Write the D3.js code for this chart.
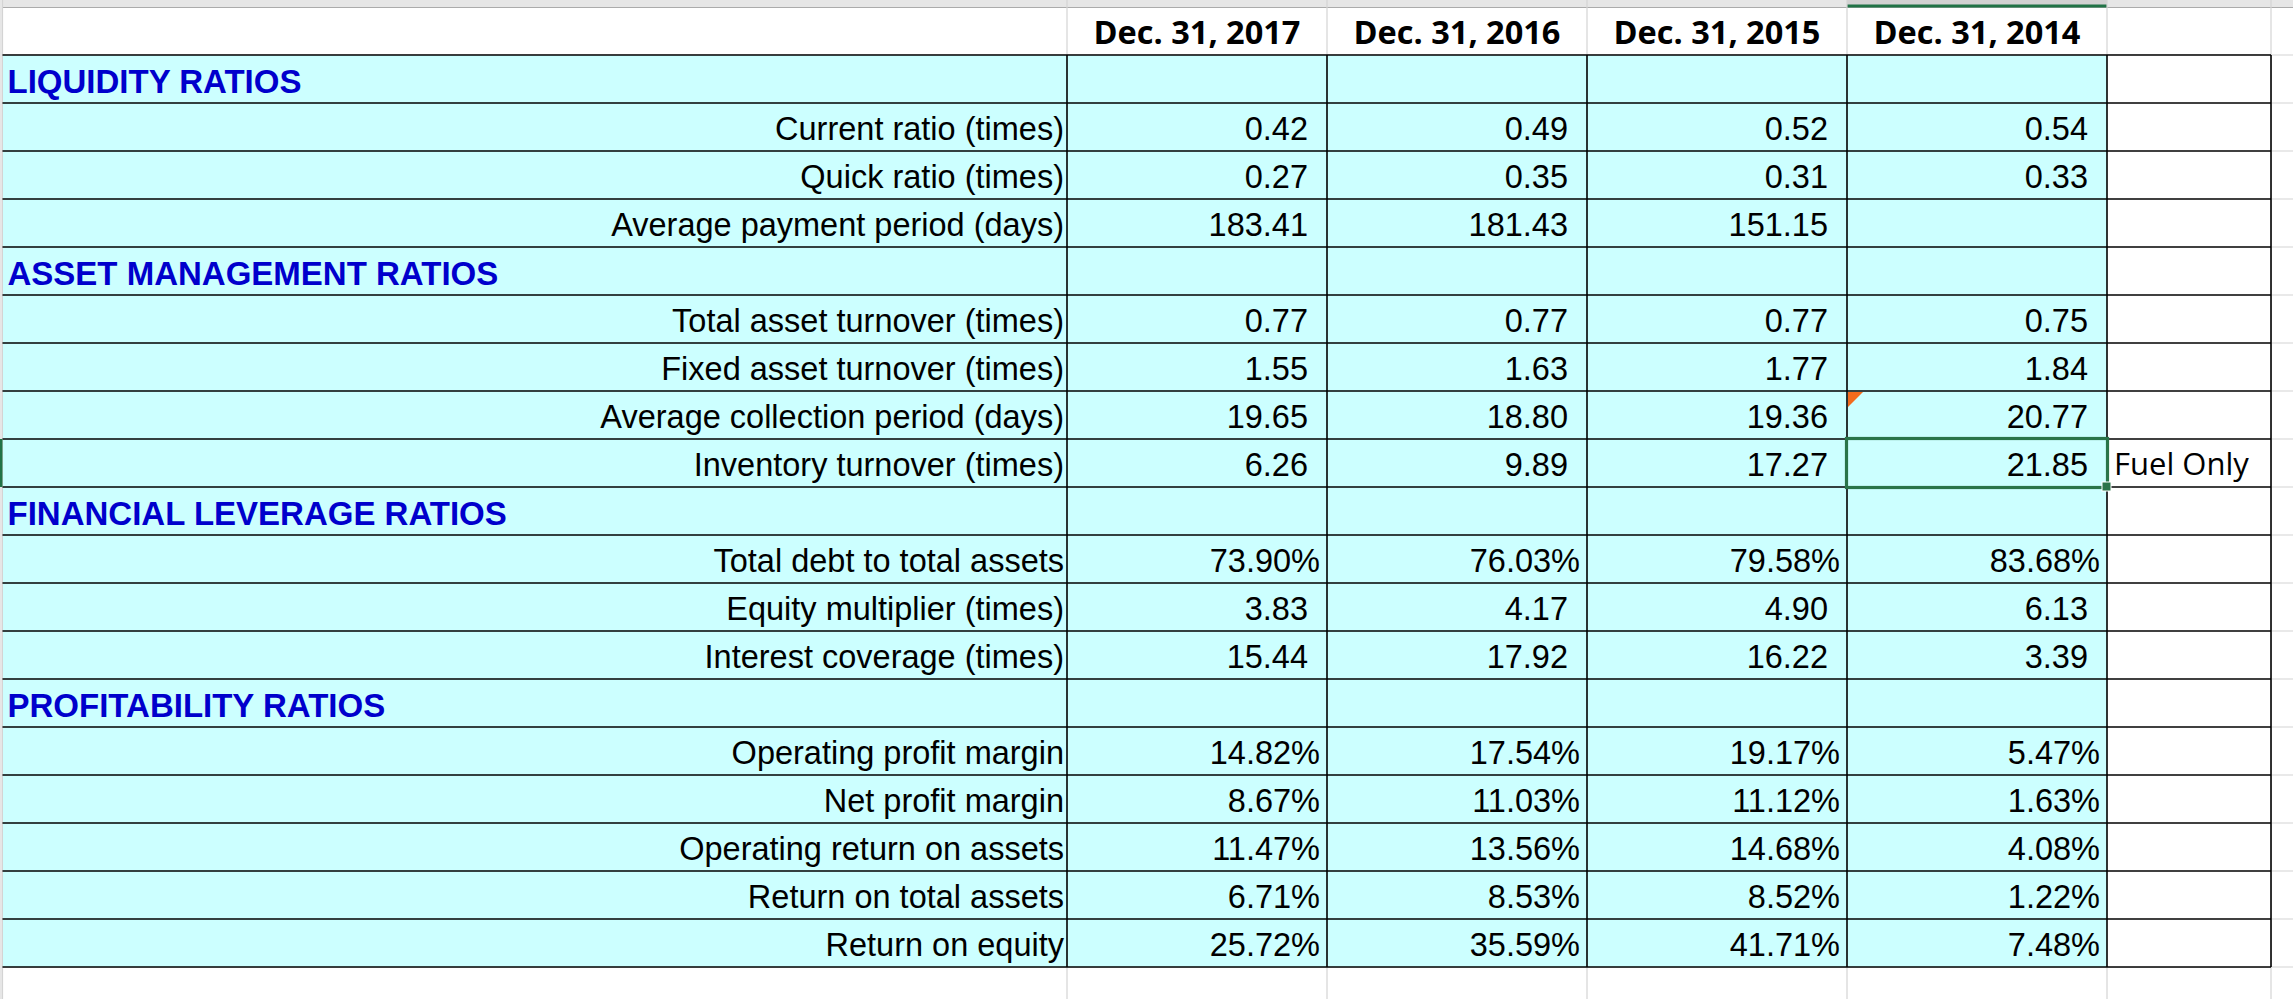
<!DOCTYPE html>
<html><head><meta charset="utf-8">
<script src="https://cdn.jsdelivr.net/npm/d3@7"></script>
<style>body{margin:0;background:#fff;overflow:hidden}svg{display:block}</style>
</head><body><svg id="c" width="2293" height="999"></svg>
<script>
// ---------- data ----------
const years = ["Dec. 31, 2017", "Dec. 31, 2016", "Dec. 31, 2015", "Dec. 31, 2014"];
const sections = ["LIQUIDITY RATIOS", "ASSET MANAGEMENT RATIOS", "FINANCIAL LEVERAGE RATIOS", "PROFITABILITY RATIOS"];
const ratioLabels = [
  "Current ratio (times)", "Quick ratio (times)", "Average payment period (days)",
  "Total asset turnover (times)", "Fixed asset turnover (times)", "Average collection period (days)", "Inventory turnover (times)",
  "Total debt to total assets", "Equity multiplier (times)", "Interest coverage (times)",
  "Operating profit margin", "Net profit margin", "Operating return on assets", "Return on total assets", "Return on equity"
];
const ratioSection = [0,0,0, 1,1,1,1, 2,2,2, 3,3,3,3,3];
const ratioIsPercent = [false,false,false, false,false,false,false, true,false,false, true,true,true,true,true];
const values2017 = [0.42, 0.27, 183.41, 0.77, 1.55, 19.65, 6.26, 73.90, 3.83, 15.44, 14.82, 8.67, 11.47, 6.71, 25.72];
const values2016 = [0.49, 0.35, 181.43, 0.77, 1.63, 18.80, 9.89, 76.03, 4.17, 17.92, 17.54, 11.03, 13.56, 8.53, 35.59];
const values2015 = [0.52, 0.31, 151.15, 0.77, 1.77, 19.36, 17.27, 79.58, 4.90, 16.22, 19.17, 11.12, 14.68, 8.52, 41.71];
const values2014 = [0.54, 0.33, null, 0.75, 1.84, 20.77, 21.85, 83.68, 6.13, 3.39, 5.47, 1.63, 4.08, 1.22, 7.48];
const ratioNotes = ["","","","","","","Fuel Only","","","","","","","",""];
const selectedCell = {label: "Inventory turnover (times)", year: "Dec. 31, 2014"};
const commentCell = {label: "Average collection period (days)", year: "Dec. 31, 2014"};

const seriesByYear = [values2017, values2016, values2015, values2014];

// ---------- build rows ----------
const rows = [];
sections.forEach((s, si) => {
  rows.push({type: "section", label: s});
  ratioLabels.forEach((l, i) => {
    if (ratioSection[i] === si) rows.push({type: "item", label: l, idx: i});
  });
});

// ---------- layout ----------
const W = 2293, H = 999;
const stripH = 7, headerTop = 7, tableTop = 55, rowH = 48;
const tableBottom = tableTop + rows.length * rowH;
const labelLeft = 2.5, labelRight = 1067, yearsRight = 2107, noteRight = 2271;

const y = d3.scaleBand().domain(d3.range(rows.length)).range([tableTop, tableBottom]).padding(0);
const x = d3.scaleBand().domain(years).range([labelRight, yearsRight]).padding(0);

const svg = d3.select("#c");
svg.append("rect").attr("width", W).attr("height", H).attr("fill", "#fff");

const grid = "#d4d4d4";
// column header strip
svg.append("rect").attr("x", 0).attr("y", 0).attr("width", W).attr("height", stripH).attr("fill", "#e6e6e6");
svg.append("rect").attr("x", x("Dec. 31, 2014")).attr("y", 0).attr("width", x.bandwidth()).attr("height", stripH).attr("fill", "#d2d2d2");
svg.append("line").attr("x1", 0).attr("x2", W).attr("y1", stripH + 0.5).attr("y2", stripH + 0.5).attr("stroke", "#ababab");
svg.append("rect").attr("x", x("Dec. 31, 2014")).attr("y", stripH - 2.5).attr("width", x.bandwidth()).attr("height", 3).attr("fill", "#217346");

// gridlines (light)
const colEdges = [labelLeft, ...years.map(d => x(d)), yearsRight, noteRight];
const rowEdges = [headerTop, ...d3.range(rows.length + 1).map(i => tableTop + i * rowH)];
svg.append("g").selectAll("line").data(colEdges).join("line")
  .attr("x1", d => d).attr("x2", d => d).attr("y1", 0).attr("y2", H)
  .attr("stroke", grid).attr("stroke-width", 1.2);
svg.append("g").selectAll("line").data(rowEdges.slice(1)).join("line")
  .attr("x1", labelLeft).attr("x2", W).attr("y1", d => d).attr("y2", d => d)
  .attr("stroke", grid).attr("stroke-width", 1.2);

// cyan fill
svg.append("rect").attr("x", labelLeft + 0.5).attr("y", tableTop).attr("width", yearsRight - labelLeft - 0.5)
  .attr("height", tableBottom - tableTop).attr("fill", "#ccffff");
svg.append("rect").attr("x", yearsRight).attr("y", tableTop).attr("width", noteRight - yearsRight)
  .attr("height", tableBottom - tableTop).attr("fill", "#ffffff");

// black borders
const bl = svg.append("g").attr("stroke", "#000").attr("stroke-width", 1.6);
bl.selectAll(".h").data(d3.range(rows.length + 1)).join("line")
  .attr("x1", labelLeft).attr("x2", noteRight)
  .attr("y1", i => tableTop + i * rowH).attr("y2", i => tableTop + i * rowH);
bl.selectAll(".v").data([labelRight, ...years.slice(1).map(d => x(d)), yearsRight, noteRight]).join("line")
  .attr("x1", d => d).attr("x2", d => d).attr("y1", tableTop).attr("y2", tableBottom);

// left row-header strip
svg.append("rect").attr("x", 0).attr("y", 0).attr("width", 2).attr("height", H).attr("fill", "#e6e6e6");

// header texts
svg.append("g").selectAll("text").data(years).join("text")
  .attr("x", d => x(d) + x.bandwidth() / 2).attr("y", tableTop - 11)
  .attr("text-anchor", "middle")
  .attr("font-family", "'Open Sans', sans-serif").attr("font-weight", 700).attr("font-size", 32.5)
  .attr("fill", "#000").text(d => d);

const arial = "'Liberation Sans', Arial, sans-serif";
// section labels
svg.append("g").selectAll("text").data(rows.map((r, i) => ({...r, i})).filter(r => r.type === "section")).join("text")
  .attr("x", labelLeft + 5).attr("y", d => y(d.i) + rowH - 10)
  .attr("font-family", arial).attr("font-weight", 700).attr("font-size", 33)
  .attr("fill", "#0000cc").text(d => d.label);

const items = rows.map((r, i) => ({...r, i})).filter(r => r.type === "item");
// item labels
svg.append("g").selectAll("text").data(items).join("text")
  .attr("x", labelRight - 3).attr("y", d => y(d.i) + rowH - 11)
  .attr("text-anchor", "end")
  .attr("font-family", arial).attr("font-size", 32.5).attr("fill", "#000").text(d => d.label);

// values
const f2 = d3.format(".2f");
const cells = [];
items.forEach(it => {
  years.forEach((yr, k) => {
    const v = seriesByYear[k][it.idx];
    if (v !== null && v !== undefined) cells.push({row: it.i, year: yr, v, pct: ratioIsPercent[it.idx]});
  });
});
svg.append("g").selectAll("text").data(cells).join("text")
  .attr("x", d => x(d.year) + x.bandwidth() - (d.pct ? 7 : 19))
  .attr("y", d => y(d.row) + rowH - 11)
  .attr("text-anchor", "end")
  .attr("font-family", arial).attr("font-size", 32.5).attr("fill", "#000")
  .text(d => f2(d.v) + (d.pct ? "%" : ""));

// notes
svg.append("g").selectAll("text").data(items.filter(d => ratioNotes[d.idx])).join("text")
  .attr("x", yearsRight + 7).attr("y", d => y(d.i) + rowH - 12)
  .attr("font-family", "'Open Sans', sans-serif").attr("font-size", 31).attr("fill", "#000")
  .text(d => ratioNotes[d.idx]);

// comment indicator
const cRow = items.find(d => d.label === commentCell.label);
const cx0 = x(commentCell.year) + 1, cy0 = y(cRow.i) + 1;
svg.append("path").attr("d", `M${cx0},${cy0}L${cx0 + 15},${cy0}L${cx0},${cy0 + 15}Z`).attr("fill", "#f26b1d");

// selection
const sRow = items.find(d => d.label === selectedCell.label);
svg.append("rect").attr("x", x(selectedCell.year) - 0.5).attr("y", y(sRow.i) - 0.5)
  .attr("width", x.bandwidth() + 1).attr("height", rowH + 1)
  .attr("fill", "none").attr("stroke", "#2a7449").attr("stroke-width", 3.2);
svg.append("rect").attr("x", x(selectedCell.year) + x.bandwidth() - 5).attr("y", y(sRow.i) + rowH - 5)
  .attr("width", 9).attr("height", 9).attr("fill", "#2a7449").attr("stroke", "#fff").attr("stroke-width", 1);
svg.append("rect").attr("x", 0).attr("y", y(sRow.i)).attr("width", 2.5).attr("height", rowH).attr("fill", "#217346");
</script></body></html>
